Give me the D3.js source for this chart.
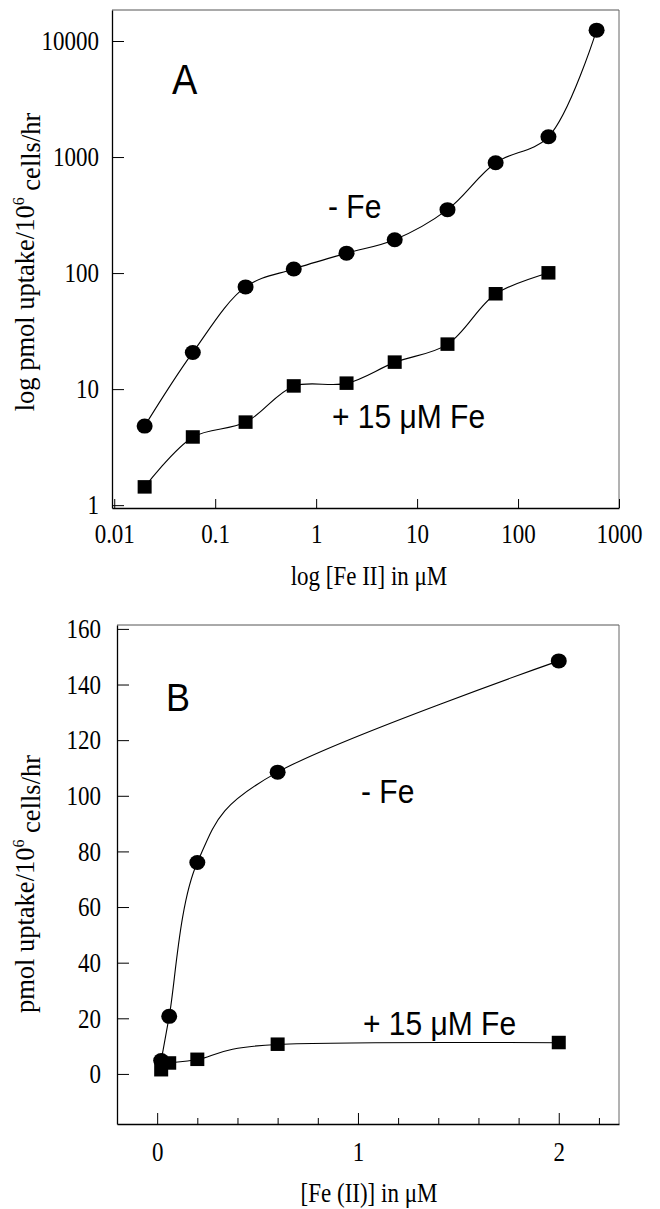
<!DOCTYPE html>
<html><head><meta charset="utf-8">
<script src="https://cdn.jsdelivr.net/npm/d3@7"></script>
<style>body{margin:0;background:#fff}svg{display:block}</style>
</head><body>
<svg id="c" width="660" height="1209"></svg>
<script>
// ---- data ----
const concMinus = [0.02, 0.06, 0.2, 0.6, 2, 6, 20, 60, 200, 600];
const uptakeMinus = [4.8, 20.7, 76, 108.5, 148.5, 194, 352, 893, 1494, 12400];
const concPlus = [0.02, 0.06, 0.2, 0.6, 2, 6, 20, 60, 200];
const uptakePlus = [1.43, 3.85, 5.17, 10.6, 11.2, 17, 24.3, 66, 100];
const linearMaxConc = 2; // panel B shows points up to 2 µM
const logXTicks = [0.01, 0.1, 1, 10, 100, 1000];
const logYTicks = [1, 10, 100, 1000, 10000];
const linXTicks = [0, 1, 2];
const linXMinor = [0.2, 0.4, 0.6, 0.8, 1.2, 1.4, 1.6, 1.8, 2.2];
const linYTicks = [0, 20, 40, 60, 80, 100, 120, 140, 160];

const svg = d3.select("#c");
const SERIF = "'Liberation Serif','Times New Roman',serif";
const SANS = "'Liberation Sans',Arial,Helvetica,sans-serif";
const STRETCH = 1.18;

function styleAxis(g) {
  g.attr("font-family", SERIF).attr("font-size", 23);
  g.selectAll("text").attr("fill", "#000").attr("transform", `scale(1,${STRETCH})`);
  g.selectAll("line").attr("stroke", "#000").attr("stroke-width", 1);
  g.select(".domain").attr("stroke", "#000").attr("stroke-width", 1.3);
}

function frame(L, R, T, B) {
  svg.append("line").attr("x1", L).attr("x2", R).attr("y1", T).attr("y2", T)
    .attr("stroke", "#555").attr("stroke-width", 1);
  svg.append("line").attr("x1", R).attr("x2", R).attr("y1", T).attr("y2", B)
    .attr("stroke", "#666").attr("stroke-width", 1);
}

function yTitle(x, y, pre) {
  const t = svg.append("text").attr("transform", `translate(${x},${y}) rotate(-90)`)
    .attr("text-anchor", "middle").attr("font-family", SERIF).attr("font-size", 26.5);
  t.append("tspan").text(pre + "uptake/10");
  t.append("tspan").attr("font-size", 16).attr("dy", "-0.6em").text("6");
  t.append("tspan").attr("dy", "0.6em").text(" cells/hr");
}

function xTitle(x, y, txt) {
  svg.append("text").attr("transform", `translate(${x},${y}) scale(1,${STRETCH})`)
    .attr("text-anchor", "middle").attr("font-family", SERIF).attr("font-size", 23).text(txt);
}

function label(x, y, txt, size) {
  svg.append("text").attr("transform", `translate(${x},${y}) scale(1,1.1)`)
    .attr("font-family", SANS).attr("font-size", size).attr("fill", "#000").text(txt);
}

function drawSeries(xs, ys, xS, yS, shape, curve) {
  const pts = xs.map((d, i) => [d, ys[i]]);
  const line = d3.line().x(d => xS(d[0])).y(d => yS(d[1])).curve(curve);
  svg.append("path").attr("d", line(pts)).attr("fill", "none")
    .attr("stroke", "#000").attr("stroke-width", 1.1);
  if (shape === "circle") {
    svg.append("g").selectAll("ellipse").data(pts).join("ellipse")
      .attr("cx", d => xS(d[0])).attr("cy", d => yS(d[1]))
      .attr("rx", 8).attr("ry", 7.5).attr("fill", "#000");
  } else {
    svg.append("g").selectAll("rect").data(pts).join("rect")
      .attr("x", d => xS(d[0]) - 7).attr("y", d => yS(d[1]) - 7)
      .attr("width", 14).attr("height", 13.5).attr("fill", "#000");
  }
}

// ---- Panel A (log-log) ----
const xA = d3.scaleLog().domain([0.0095, 1000]).range([112, 619]);
const yA = d3.scaleLog().domain([0.945, 18500]).range([508, 10]);
frame(112, 619, 10, 508);
svg.append("g").attr("transform", "translate(112,0)")
  .call(d3.axisLeft(yA).tickValues(logYTicks).tickFormat(d => String(d))
    .tickSize(-12).tickSizeOuter(0).tickPadding(13))
  .call(styleAxis);
svg.append("g").attr("transform", "translate(0,508)")
  .call(d3.axisBottom(xA).tickValues(logXTicks).tickFormat(d => String(d))
    .tickSize(-9).tickSizeOuter(0).tickPadding(13))
  .call(styleAxis);
const curveA = d3.curveCatmullRom.alpha(0.5);
drawSeries(concMinus, uptakeMinus, xA, yA, "circle", curveA);
drawSeries(concPlus, uptakePlus, xA, yA, "square", curveA);
label(172, 94, "A", 38);
label(328, 218, "- Fe", 30);
label(332, 428, "+ 15 \u03bcM Fe", 30);
xTitle(369, 585, "log [Fe II] in \u03bcM");
yTitle(34, 262, "log pmol ");

// ---- Panel B (linear) ----
const xB = d3.scaleLinear().domain([-0.2, 2.3]).range([117, 619]);
const yB = d3.scaleLinear().domain([-18, 161.4]).range([1124, 625]);
frame(117, 619, 625, 1124);
svg.append("g").attr("transform", "translate(117,0)")
  .call(d3.axisLeft(yB).tickValues(linYTicks).tickSize(-12).tickSizeOuter(0).tickPadding(16))
  .call(styleAxis);
svg.append("g").attr("transform", "translate(0,1124)")
  .call(d3.axisBottom(xB).tickValues(linXTicks).tickFormat(d3.format("d"))
    .tickSize(-11).tickSizeOuter(0).tickPadding(15))
  .call(styleAxis);
svg.append("g").attr("transform", "translate(0,1124)")
  .call(d3.axisBottom(xB).tickValues(linXMinor).tickFormat("").tickSize(-6).tickSizeOuter(0))
  .call(g => g.select(".domain").remove())
  .call(g => g.selectAll("line").attr("stroke", "#000"));
const iMax = concMinus.indexOf(linearMaxConc) + 1;
const curveB = d3.curveCatmullRom.alpha(0);
drawSeries(concMinus.slice(0, iMax), uptakeMinus.slice(0, iMax), xB, yB, "circle", curveB);
drawSeries(concPlus.slice(0, iMax), uptakePlus.slice(0, iMax), xB, yB, "square", curveB);
label(166, 711, "B", 36);
label(361, 803, "- Fe", 30);
label(363, 1035, "+ 15 \u03bcM Fe", 30);
xTitle(369, 1202, "[Fe (II)] in \u03bcM");
yTitle(34, 884, "pmol ");
</script>
</body></html>
